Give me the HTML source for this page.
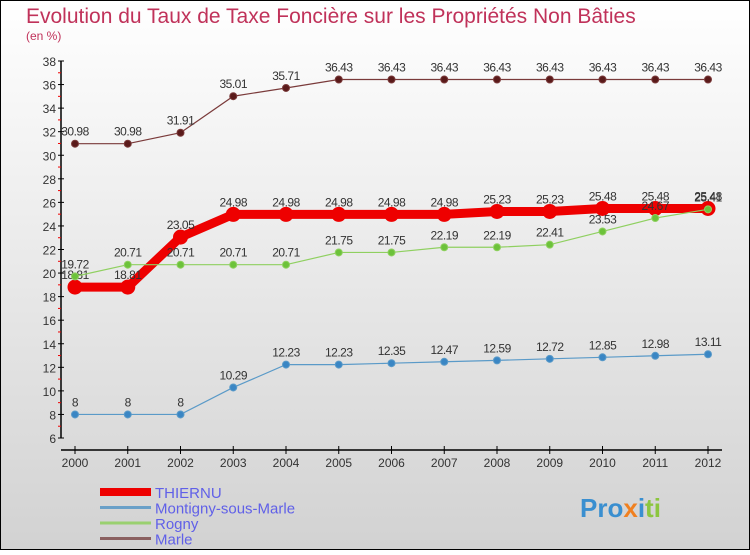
<!DOCTYPE html>
<html><head><meta charset="utf-8"><style>
body{margin:0}
svg text{font-family:"Liberation Sans",sans-serif}
</style></head><body>
<svg id="c" width="750" height="550" xmlns="http://www.w3.org/2000/svg">
<defs><linearGradient id="bg" x1="0" y1="0" x2="0" y2="1"><stop offset="0" stop-color="#ffffff"/><stop offset="1" stop-color="#d2d2d2"/></linearGradient></defs>
<rect x="0.5" y="0.5" width="749" height="549" fill="url(#bg)" stroke="#000"/>
<text x="26" y="23" font-size="21" fill="#c0325a">Evolution du Taux de Taxe Foncière sur les Propriétés Non Bâties</text>
<text x="26" y="40" font-size="12" fill="#c0325a">(en %)</text>
<g id="axes"></g>
<g id="series"></g>
<g id="legend"></g>
<text x="580" y="517" font-size="26" font-weight="bold" fill="#3a8fd0">Pro<tspan fill="#f08020">x</tspan><tspan fill="#3a8fd0">i</tspan><tspan fill="#8cc63f">ti</tspan></text>
</svg>
<script>
const years=["2000","2001","2002","2003","2004","2005","2006","2007","2008","2009","2010","2011","2012"];
const yTicks=[6,8,10,12,14,16,18,20,22,24,26,28,30,32,34,36,38];
const thiernu=[18.81,18.81,23.05,24.98,24.98,24.98,24.98,24.98,25.23,25.23,25.48,25.48,25.48];
const montigny=[8,8,8,10.29,12.23,12.23,12.35,12.47,12.59,12.72,12.85,12.98,13.11];
const rogny=[19.72,20.71,20.71,20.71,20.71,21.75,21.75,22.19,22.19,22.41,23.53,24.67,25.41];
const marle=[30.98,30.98,31.91,35.01,35.71,36.43,36.43,36.43,36.43,36.43,36.43,36.43,36.43];
const NS="http://www.w3.org/2000/svg";
const xs=i=>75+i*52.75;
const ys=v=>438-(v-6)*(377/32);
function mk(tag,attrs,parent){const e=document.createElementNS(NS,tag);for(const k in attrs)e.setAttribute(k,attrs[k]);parent.appendChild(e);return e;}
const ax=document.getElementById('axes');
let l=mk('line',{x1:61,y1:61,x2:61,y2:438,stroke:'#000','stroke-width':1.5},ax);


l=mk('line',{x1:61,y1:450,x2:722,y2:450,stroke:'#000','stroke-width':1.5},ax);


yTicks.forEach(v=>{const y=ys(v);
 mk('line',{x1:58,y1:y,x2:64,y2:y,stroke:'#000'},ax);
 if(v<38)mk('line',{x1:58,y1:ys(v+1),x2:61,y2:ys(v+1),stroke:'#e00'},ax);
 const t=mk('text',{x:56,y:y+5,'text-anchor':'end','font-size':12,fill:'#333'},ax);t.textContent=v;
 
 });
years.forEach((yr,i)=>{const x=xs(i);
 mk('line',{x1:x,y1:446,x2:x,y2:454,stroke:'#000'},ax);
 const t=mk('text',{x:x,y:467,'text-anchor':'middle','font-size':12,fill:'#333'},ax);t.textContent=yr;
 
 });
const sg=document.getElementById('series');
function draw(vals,name,color,w,r,fill){
 const g=mk('g',{},sg);
 
 
 const p=mk('polyline',{points:vals.map((v,i)=>xs(i)+','+ys(v)).join(' '),fill:'none',stroke:color,'stroke-width':w},g);
 
 
 vals.forEach((v,i)=>{
  const c=mk('circle',{cx:xs(i),cy:ys(v),r:r,fill:fill,stroke:color,'stroke-width':1},g);
  
  
  const t=mk('text',{x:xs(i),y:ys(v)-8,'text-anchor':'middle','font-size':12,fill:'#333','letter-spacing':'-0.5'},g);t.textContent=v;
  
  });
}
draw(marle,'marle','#7a3a3a',1.2,3.5,'#5a1a1a');
draw(montigny,'montigny','#5a9ac8',1.2,3.5,'#3a86c4');
draw(thiernu,'thiernu','#ee0000',9,7,'#ee0000');
draw(rogny,'rogny','#8fd060',1.2,3.5,'#6cc23a');
const lg=document.getElementById('legend');
[['THIERNU','#ee0000',8],['Montigny-sous-Marle','#6aa0c8',3],['Rogny','#9ad070',3],['Marle','#8a6060',3]].forEach((d,i)=>{
 const y=492+i*15.5;
 const ln=mk('line',{x1:100,y1:y,x2:151,y2:y,stroke:d[1],'stroke-width':d[2]},lg);
 
 
 const t=mk('text',{x:155,y:y+6,'font-size':15,fill:'#6060e8'},lg);t.textContent=d[0];
 
 });
</script>
</body></html>
